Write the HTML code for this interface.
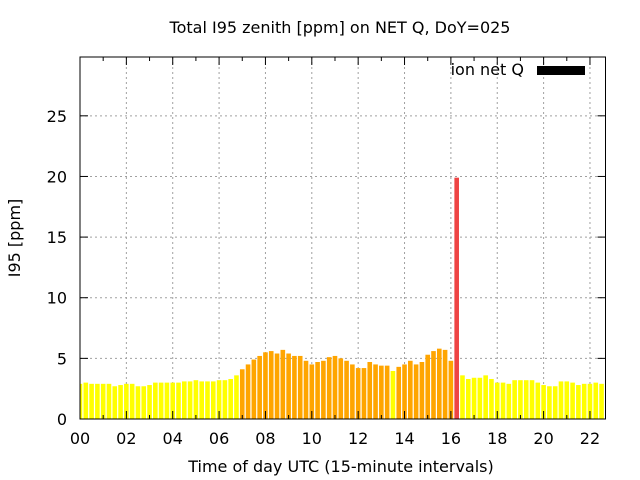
<!DOCTYPE html>
<html><head><meta charset="utf-8"><style>
body{margin:0;background:#fff}
svg{display:block;font-family:"DejaVu Sans","Liberation Sans",sans-serif}
</style></head><body>
<svg id="chart" width="640" height="480" viewBox="0 0 640 480">
<rect width="640" height="480" fill="#fff"/>
<text x="340" y="33" font-size="16" text-anchor="middle">Total I95 zenith [ppm] on NET Q, DoY=025</text>
<g id="grid"></g>
<g id="bars"></g>
<g id="axes"></g>
<text x="341" y="472" font-size="16" text-anchor="middle">Time of day UTC (15-minute intervals)</text>
<text x="20" y="238" font-size="16" text-anchor="middle" transform="rotate(-90 20 238)">I95 [ppm]</text>
<g>
<text x="524" y="75" font-size="16" text-anchor="end">ion net Q</text>
<rect x="537" y="66" width="48" height="9" fill="#000"/>
</g>
</svg>
<script>
const values = [2.9,3.0,2.9,2.9,2.9,2.9,2.7,2.8,2.9,2.9,2.7,2.7,2.8,3.0,3.0,3.0,3.0,3.0,3.1,3.1,3.2,3.1,3.1,3.1,3.2,3.2,3.3,3.6,4.1,4.5,4.9,5.2,5.5,5.6,5.4,5.7,5.4,5.2,5.2,4.8,4.5,4.7,4.8,5.1,5.2,5.0,4.8,4.5,4.2,4.2,4.7,4.5,4.4,4.4,3.96,4.3,4.5,4.8,4.5,4.7,5.3,5.6,5.8,5.7,4.8,19.9,3.6,3.3,3.4,3.4,3.6,3.3,3.0,3.0,2.9,3.2,3.2,3.2,3.2,3.0,2.8,2.7,2.7,3.1,3.1,3.0,2.8,2.9,2.9,3.0,2.9,2.8];
const yTicks = [0,5,10,15,20,25];
const xTickLabels = ["00","02","04","06","08","10","12","14","16","18","20","22"];
const X0=80,X1=605.5,Y0=419,Y1=57,XMAX=22.67,YMAX=29.85;
const NS='http://www.w3.org/2000/svg';
const xs=h=>X0+h*(X1-X0)/XMAX;
const ys=v=>Y0-v*(Y0-Y1)/YMAX;
function mk(tag,attrs,parent){const e=document.createElementNS(NS,tag);for(const k in attrs)e.setAttribute(k,attrs[k]);parent.appendChild(e);return e;}
const grid=document.getElementById('grid'),bars=document.getElementById('bars'),axes=document.getElementById('axes');
yTicks.forEach(v=>{
  if(v>0){const l=mk('line',{x1:X0,x2:X1,y1:ys(v),y2:ys(v),stroke:'#a0a0a0','stroke-dasharray':'2,3'},grid);
  
  }
  const t=mk('text',{x:X0-13,y:ys(v)+6,'font-size':16,'text-anchor':'end'},axes);t.textContent=v;
  
  
  mk('line',{x1:X0,x2:X0+8,y1:ys(v),y2:ys(v),stroke:'#000'},axes);
  mk('line',{x1:X1,x2:X1-8,y1:ys(v),y2:ys(v),stroke:'#000'},axes);
});
xTickLabels.forEach((lab,i)=>{
  const h=i*2,x=xs(h);
  if(h>0){const l=mk('line',{x1:x,x2:x,y1:Y0,y2:Y1,stroke:'#a0a0a0','stroke-dasharray':'2,3'},grid);
  
  }
  const t=mk('text',{x:x,y:Y0+25,'font-size':16,'text-anchor':'middle'},axes);t.textContent=lab;
  
  
});
for(let h=0;h<=22;h++){const x=xs(h),L=h%2?4:8;
  mk('line',{x1:x,x2:x,y1:Y0,y2:Y0-L,stroke:'#000'},axes);
  mk('line',{x1:x,x2:x,y1:Y1,y2:Y1+L,stroke:'#000'},axes);}
values.forEach((v,i)=>{
  const h=i*0.25,c=xs(h);let l=c-2.3,r=c+2.3;
  l=Math.max(l,X0);r=Math.min(r,X1);if(r<=l)return;
  const col=v>=10?'#ee4444':(v>=4?'#ffa500':'#ffff00');
  const b=mk('rect',{x:l,y:ys(v),width:r-l,height:Y0-ys(v),fill:col},bars);
  
  
});
const fr=mk('rect',{x:X0,y:Y1,width:X1-X0,height:Y0-Y1,fill:'none',stroke:'#000','stroke-width':1},axes);


</script>
</body></html>
